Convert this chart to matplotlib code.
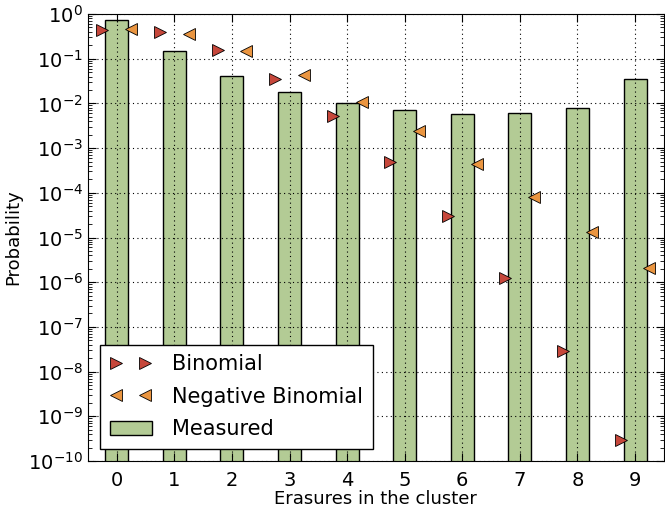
import numpy as np
import matplotlib
matplotlib.use("Agg")
import matplotlib.pyplot as plt
from matplotlib.ticker import LogLocator, NullFormatter

# Cluster sizes and probabilities
erasures = [0, 1, 2, 3, 4, 5, 6, 7, 8, 9]
measured = [0.73, 0.15, 0.041, 0.018, 0.0104, 0.0071, 0.0058, 0.0060, 0.0078, 0.0357]
binomial = [0.44, 0.39, 0.154, 0.035, 0.0051, 4.8e-4, 3.1e-5, 1.26e-6, 2.9e-8, 2.95e-10]
neg_binomial = [0.46, 0.35, 0.146, 0.044, 0.011, 2.4e-3, 4.5e-4, 7.9e-5, 1.3e-5, 2.1e-6]

plt.rcParams['font.family'] = ['DejaVu Sans']

fig = plt.figure(figsize=(6.65, 5.12), dpi=100)
ax = fig.add_axes([0.1323, 0.0996, 0.866, 0.873])

x = np.array(erasures)
ax.bar(x, measured, width=0.4, color='#b3cb95', edgecolor='black', linewidth=1.0,
       label='Measured', zorder=2)
ax.plot(x - 0.25, binomial, linestyle='none', marker='>', markersize=9,
        markerfacecolor='#c6473b', markeredgecolor='black', markeredgewidth=0.6,
        label='Binomial', zorder=3)
ax.plot(x + 0.25, neg_binomial, linestyle='none', marker='<', markersize=9,
        markerfacecolor='#ea9540', markeredgecolor='black', markeredgewidth=0.6,
        label='Negative Binomial', zorder=3)

ax.set_yscale('log')
ax.set_ylim(1e-10, 1)
ax.set_xlim(-0.5, 9.5)
ax.set_xticks(erasures)
ax.yaxis.set_major_locator(LogLocator(base=10, numticks=12))
ax.yaxis.set_minor_locator(LogLocator(base=10, subs=np.arange(2, 10), numticks=12))
ax.yaxis.set_minor_formatter(NullFormatter())

ax.grid(True, which='major', color='black', linestyle=(0, (1, 3)), linewidth=0.8, zorder=1)
ax.set_axisbelow(False)
ax.tick_params(which='both', direction='in', top=True, right=True, labelsize=14)
ax.tick_params(which='major', length=6)
ax.tick_params(which='minor', length=3)
ax.tick_params(axis='x', pad=7)

ax.set_xlabel('Erasures in the cluster', fontsize=13, labelpad=0)
ax.set_ylabel('Probability', fontsize=13)

leg = ax.legend(loc='lower left', numpoints=2, fontsize=15, fancybox=False,
                framealpha=1, edgecolor='black', borderaxespad=0.6,
                handlelength=2.0, handletextpad=1.0, labelspacing=0.6,
                borderpad=0.45)
leg.get_frame().set_linewidth(1.0)

fig.savefig('out.png', dpi=100)
